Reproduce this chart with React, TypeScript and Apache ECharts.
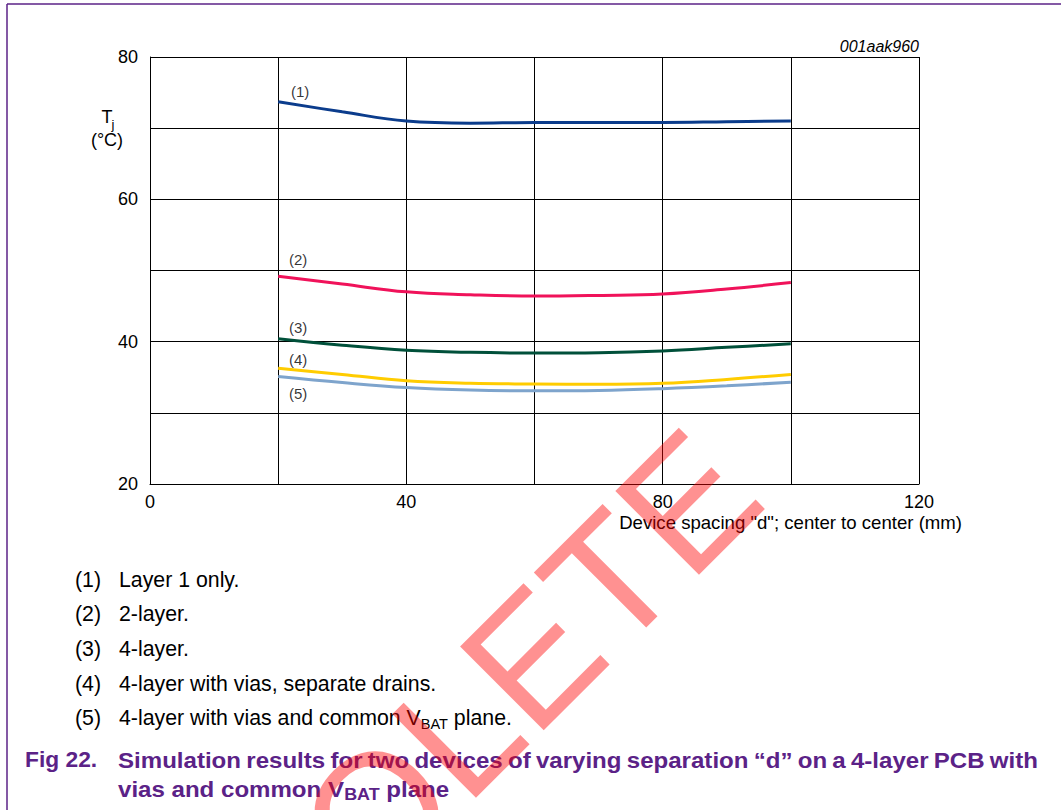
import React, { useEffect, useRef } from "react";
import * as echarts from "echarts";

// Device spacing "d" (mm) where the junction temperature was simulated
const spacingMm = [20, 30, 40, 50, 60, 70, 80, 90, 100];

// Junction temperature Tj (°C) per board construction
const layer1Only = [73.7, 72.3, 71.0, 70.7, 70.8, 70.8, 70.8, 70.9, 71.0];
const twoLayer = [49.2, 48.1, 47.0, 46.6, 46.4, 46.5, 46.7, 47.4, 48.3];
const fourLayer = [40.4, 39.5, 38.8, 38.5, 38.4, 38.45, 38.7, 39.2, 39.7];
const fourLayerViasSeparate = [36.25, 35.4, 34.5, 34.15, 34.05, 34.0, 34.15, 34.7, 35.4];
const fourLayerViasCommon = [35.1, 34.25, 33.55, 33.2, 33.1, 33.15, 33.4, 33.8, 34.3];

const curveTags = ["(1)", "(2)", "(3)", "(4)", "(5)"];
const curveColors = ["#0b3c8c", "#f0125a", "#00503a", "#ffcc00", "#7ea4cc"];
const tagOffsets: [number, number][] = [
  [22, -10],
  [20, -17],
  [20, -11],
  [20, -9],
  [20, 17],
];

const xLabelStep = 40;
const yLabelStep = 20;

// Legend notes; each entry is [main text, subscript, trailing text]
const noteTags = ["(1)", "(2)", "(3)", "(4)", "(5)"];
const noteTexts: [string, string, string][] = [
  ["Layer 1 only.", "", ""],
  ["2-layer.", "", ""],
  ["4-layer.", "", ""],
  ["4-layer with vias, separate drains.", "", ""],
  ["4-layer with vias and common V", "BAT", " plane."],
];

const captionLabel = "Fig 22.";
const captionLine1 =
  "Simulation results for two devices of varying separation \u201cd\u201d on a 4-layer PCB with";
const captionLine2: [string, string, string] = ["vias and common V", "BAT", " plane"];

const FONT = "'Liberation Sans', Arial, Helvetica, sans-serif";
const PURPLE = "#5b2287";

const measureCtx = document.createElement("canvas").getContext("2d")!;
function textWidth(s: string, size: number, weight = "normal") {
  measureCtx.font = `${weight} ${size}px ${FONT}`;
  return measureCtx.measureText(s).width;
}

// Main run + subscript + trailing run, laid out on one baseline
function subscriptRun(
  parts: [string, string, string],
  x: number,
  y: number,
  size: number,
  subSize: number,
  weight: string,
  color: string,
  sx = 1
) {
  const out: any[] = [];
  const base = { fontFamily: FONT, fill: color, fontWeight: weight, verticalAlign: "middle" };
  out.push({ type: "text", x, y, scaleX: sx, style: { ...base, text: parts[0], fontSize: size } });
  if (!parts[1]) return out;
  const w0 = textWidth(parts[0], size, weight) * sx;
  const w1 = textWidth(parts[1], subSize, weight) * sx;
  const subY = y + 0.3465 * size + 3.5 - 0.3465 * subSize;
  out.push({ type: "text", x: x + w0, y: subY, scaleX: sx, style: { ...base, text: parts[1], fontSize: subSize } });
  out.push({ type: "text", x: x + w0 + w1, y, scaleX: sx, style: { ...base, text: parts[2], fontSize: size } });
  return out;
}

// Words spread so the line fills [x0, x1]
function justifiedLine(
  text: string,
  x0: number,
  x1: number,
  y: number,
  size: number,
  weight: string,
  color: string,
  sx = 1
) {
  const words = text.split(" ");
  const widths = words.map((w) => textWidth(w, size, weight) * sx);
  const total = widths.reduce((a, b) => a + b, 0);
  const gap = (x1 - x0 - total) / (words.length - 1);
  const out: any[] = [];
  let x = x0;
  words.forEach((w, i) => {
    out.push({
      type: "text",
      x,
      y,
      scaleX: sx,
      style: { text: w, fontSize: size, fontWeight: weight, fontFamily: FONT, fill: color, verticalAlign: "middle" },
    });
    x += widths[i] + gap;
  });
  return out;
}

export default function App() {
  const ref = useRef<HTMLDivElement>(null);

  useEffect(() => {
    if (!ref.current) return;
    const chart = echarts.init(ref.current, null, { renderer: "svg" });

    const curves = [
      layer1Only,
      twoLayer,
      fourLayer,
      fourLayerViasSeparate,
      fourLayerViasCommon,
    ];

    const lineSeries = curves.map((vals, i) => ({
      type: "line",
      name: curveTags[i],
      data: spacingMm.map((x, k) => [x, vals[k]]),
      smooth: 0.4,
      symbol: "none",
      lineStyle: { color: curveColors[i], width: 3 },
      z: 3,
    }));

    const tagSeries = curves.map((vals, i) => ({
      type: "scatter",
      data: [[spacingMm[0], vals[0]]],
      symbolSize: 1,
      itemStyle: { color: "transparent" },
      label: {
        show: true,
        position: "inside",
        offset: tagOffsets[i],
        formatter: curveTags[i],
        fontSize: 15,
        fontFamily: FONT,
        color: "#000",
      },
      z: 4,
    }));

    const NOTE_SIZE = 21.3;
    const noteGraphics: any[] = [];
    const noteY = [580, 613.5, 648.5, 684, 718];
    noteTexts.forEach((parts, i) => {
      noteGraphics.push({
        type: "text",
        x: 75,
        y: noteY[i],
        style: {
          text: noteTags[i],
          fontSize: NOTE_SIZE,
          fontFamily: FONT,
          fill: "#000",
          verticalAlign: "middle",
        },
      });
      noteGraphics.push(...subscriptRun(parts, 119, noteY[i], NOTE_SIZE, 14.5, "normal", "#000"));
    });

    const CAP_SIZE = 21.5;
    const CAP_SX = 1.12;
    const captionGraphics: any[] = [
      {
        type: "text",
        x: 25,
        y: 760,
        scaleX: 1.06,
        style: { text: captionLabel, fontSize: CAP_SIZE, fontWeight: "bold", fontFamily: FONT, fill: PURPLE, verticalAlign: "middle" },
      },
      ...justifiedLine(captionLine1, 118, 1038, 760, CAP_SIZE, "bold", PURPLE, CAP_SX),
      ...subscriptRun(captionLine2, 118, 789, CAP_SIZE, 16, "bold", PURPLE, CAP_SX),
    ];

    chart.setOption({
      animation: false,
      backgroundColor: "#fff",
      grid: { left: 150, top: 57, right: 142, bottom: 326, containLabel: false },
      xAxis: {
        type: "value",
        min: 0,
        max: 120,
        interval: 20,
        axisLine: { show: true, lineStyle: { color: "#000", width: 1 } },
        axisTick: { show: false },
        axisLabel: {
          formatter: (v: number) => (v % xLabelStep === 0 ? String(v) : ""),
          fontSize: 18,
          fontFamily: FONT,
          color: "#000",
          margin: 9,
        },
        splitLine: { show: true, lineStyle: { color: "#000", width: 1 } },
      },
      yAxis: {
        type: "value",
        min: 20,
        max: 80,
        interval: 10,
        axisLine: { show: true, lineStyle: { color: "#000", width: 1 } },
        axisTick: { show: false },
        axisLabel: {
          formatter: (v: number) => (v % yLabelStep === 0 ? String(v) : ""),
          fontSize: 18,
          fontFamily: FONT,
          color: "#000",
          margin: 12,
        },
        splitLine: { show: true, lineStyle: { color: "#000", width: 1 } },
      },
      series: [...lineSeries, ...tagSeries],
      graphic: [
        // page frame
        {
          type: "line",
          shape: { x1: 7, y1: 4, x2: 1061, y2: 4 },
          style: { stroke: PURPLE, lineWidth: 1.5 },
        },
        {
          type: "line",
          shape: { x1: 7, y1: 4, x2: 7, y2: 810 },
          style: { stroke: PURPLE, lineWidth: 1.5 },
        },
        {
          type: "text",
          x: 919,
          y: 46,
          style: {
            text: "001aak960",
            fontSize: 16,
            fontStyle: "italic",
            fontFamily: FONT,
            fill: "#000",
            align: "right",
            verticalAlign: "middle",
          },
        },
        // Tj (°C) axis caption
        {
          type: "text",
          x: 107,
          y: 117,
          style: { text: "T", fontSize: 18, fontFamily: FONT, fill: "#000", align: "center", verticalAlign: "middle" },
        },
        {
          type: "text",
          x: 113,
          y: 124,
          style: { text: "j", fontSize: 13, fontFamily: FONT, fill: "#000", align: "center", verticalAlign: "middle" },
        },
        {
          type: "text",
          x: 107,
          y: 140,
          style: { text: "(°C)", fontSize: 18, fontFamily: FONT, fill: "#000", align: "center", verticalAlign: "middle" },
        },
        {
          type: "text",
          x: 962,
          y: 522,
          style: {
            text: 'Device spacing "d"; center to center (mm)',
            fontSize: 18.6,
            fontFamily: FONT,
            fill: "#000",
            align: "right",
            verticalAlign: "middle",
          },
        },
        ...noteGraphics,
        ...captionGraphics,
        // status stamp
        {
          type: "text",
          x: 400,
          y: 789,
          rotation: Math.PI / 4,
          z: 100,
          style: {
            text: "OBSOLETE",
            fontSize: 172,
            fontFamily: FONT,
            fill: "rgba(255,0,0,0.43)",
            align: "center",
            verticalAlign: "middle",
          },
        },
      ],
    });

    return () => chart.dispose();
  }, []);

  return (
    <div
      ref={ref}
      style={{ position: "absolute", left: 0, top: 0, width: 1061, height: 810, background: "#fff" }}
    />
  );
}
